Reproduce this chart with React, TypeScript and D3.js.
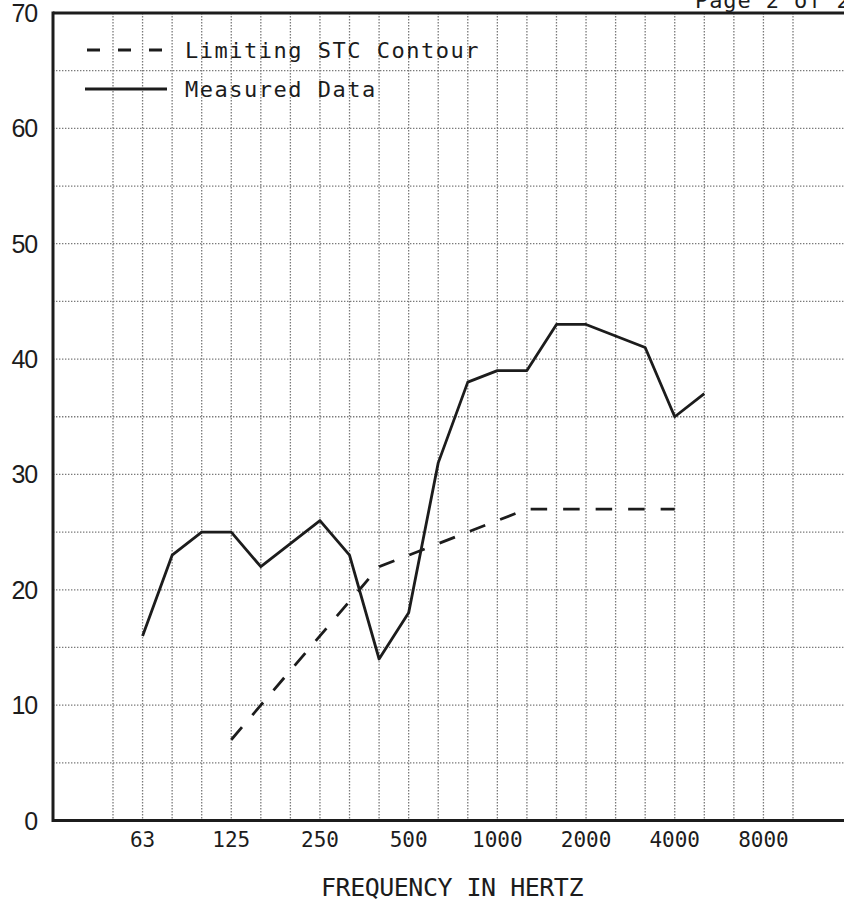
import React from "react";
import * as d3 from "d3";

const bands: string[] = ["50","63","80","100","125","160","200","250","315","400","500","630","800","1000","1250","1600","2000","2500","3150","4000","5000","6300","8000","10000"];
const octaveLabels: string[] = ["63","125","250","500","1000","2000","4000","8000"];
const yTicks: number[] = [0,10,20,30,40,50,60,70];
const yGrid: number[] = [5,10,15,20,25,30,35,40,45,50,55,60,65];

const measuredBands: string[] = ["63","80","100","125","160","200","250","315","400","500","630","800","1000","1250","1600","2000","2500","3150","4000","5000"];
const measuredValues: number[] = [16,23,25,25,22,24,26,23,14,18,31,38,39,39,43,43,42,41,35,37];

const contourBands: string[] = ["125","160","200","250","315","400","500","630","800","1000","1250","1600","2000","2500","3150","4000"];
const contourValues: number[] = [7,10,13,16,19,22,23,24,25,26,27,27,27,27,27,27];

const W = 844;
const H = 903;
const LEFT = 53;
const TOP = 13;
const BOTTOM = 820.5;

export default function App() {
  const x = d3.scalePoint<string>().domain(bands).range([113, 793]);
  const y = d3.scaleLinear().domain([0, 70]).range([BOTTOM, TOP]);

  const measuredLine = d3
    .line<number>()
    .x((_, i) => x(measuredBands[i]) as number)
    .y((d) => y(d));
  const contourLine = d3
    .line<number>()
    .x((_, i) => x(contourBands[i]) as number)
    .y((d) => y(d));

  const mono = "'DejaVu Sans Mono', monospace";
  const ink = "#1c1c1c";
  const gridColor = "#7a7a7a";

  return (
    <svg
      width={W}
      height={H}
      viewBox={`0 0 ${W} ${H}`}
      style={{ position: "absolute", left: 0, top: 0, background: "#fff" }}
    >
      <rect x={0} y={0} width={W} height={H} fill="#fff" />

      {/* page marker */}
      <text x={695} y={8} fontFamily={mono} fontSize={22} letterSpacing={0.9} fill={ink}>
        Page 2 of 2
      </text>

      {/* horizontal grid */}
      {yGrid.map((v) => (
        <line
          key={"h" + v}
          x1={LEFT}
          x2={W + 20}
          y1={y(v)}
          y2={y(v)}
          stroke={gridColor}
          strokeWidth={1.3}
          strokeDasharray="1.4 1.6"
        />
      ))}
      {/* vertical grid */}
      {bands.map((b) => (
        <line
          key={"v" + b}
          x1={x(b) as number}
          x2={x(b) as number}
          y1={TOP}
          y2={BOTTOM}
          stroke={gridColor}
          strokeWidth={1.3}
          strokeDasharray="1.4 1.6"
        />
      ))}

      {/* frame */}
      <line x1={LEFT} x2={W + 20} y1={TOP} y2={TOP} stroke={ink} strokeWidth={3} />
      <line x1={LEFT} x2={W + 20} y1={BOTTOM} y2={BOTTOM} stroke={ink} strokeWidth={3} />
      <line x1={LEFT} x2={LEFT} y1={TOP - 1.5} y2={BOTTOM + 1.5} stroke={ink} strokeWidth={3} />

      {/* y tick labels */}
      {yTicks.map((v) => (
        <text
          key={"yt" + v}
          x={37}
          y={y(v) + 9}
          textAnchor="end"
          fontFamily="'Liberation Sans', Arial, sans-serif"
          fontSize={25}
          letterSpacing={-1.2}
          fill={ink}
        >
          {v}
        </text>
      ))}

      {/* x tick labels */}
      {octaveLabels.map((b) => (
        <text
          key={"xt" + b}
          x={x(b) as number}
          y={847}
          textAnchor="middle"
          fontFamily={mono}
          fontSize={21}
          fill={ink}
        >
          {b}
        </text>
      ))}

      {/* axis title */}
      <text
        x={452}
        y={896}
        textAnchor="middle"
        fontFamily={mono}
        fontSize={25}
        letterSpacing={-0.5}
        fill={ink}
      >
        FREQUENCY IN HERTZ
      </text>

      {/* data */}
      <path
        d={contourLine(contourValues) || ""}
        fill="none"
        stroke={ink}
        strokeWidth={2.8}
        strokeDasharray="16.5 16"
      />
      <path
        d={measuredLine(measuredValues) || ""}
        fill="none"
        stroke={ink}
        strokeWidth={2.8}
        strokeLinejoin="round"
      />

      {/* legend */}
      <line x1={87} x2={164} y1={50} y2={50} stroke={ink} strokeWidth={2.8} strokeDasharray="13 18" />
      <text x={185} y={58} fontFamily={mono} fontSize={22} letterSpacing={1.5} fill={ink}>
        Limiting STC Contour
      </text>
      <line x1={85} x2={167} y1={89} y2={89} stroke={ink} strokeWidth={2.8} />
      <text x={185} y={97} fontFamily={mono} fontSize={22} letterSpacing={1.5} fill={ink}>
        Measured Data
      </text>
    </svg>
  );
}
